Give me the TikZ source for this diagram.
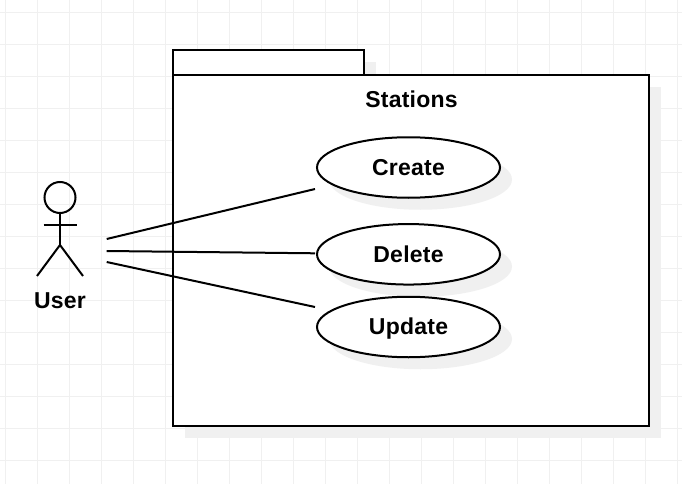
\documentclass[tikz,border=0pt]{standalone}
\usepackage{fontspec}
\setmainfont{Liberation Sans}[LetterSpace=1]
\usetikzlibrary{shapes.geometric,calc}
\definecolor{gridc}{HTML}{F0F0F0}
\definecolor{shadowc}{HTML}{F0F0F0}
\tikzset{
  gridline/.style={draw=gridc,line width=1pt},
  pkgbox/.style={draw=black,line width=2pt,fill=white,rectangle,inner sep=0pt,minimum width=476pt,minimum height=351pt,miter limit=10},
  pkgtab/.style={draw=black,line width=2pt,fill=white,rectangle,inner sep=0pt,minimum width=191pt,minimum height=25pt},
  pkgshadow/.style={fill=shadowc,draw=none},
  usecase/.style={ellipse,draw=black,line width=2pt,fill=white,inner sep=0pt,minimum width=183pt,minimum height=60.5pt,text height=16.8pt,text depth=0pt,font=\fontsize{23}{27}\selectfont\bfseries},
  caseshadow/.style={ellipse,fill=shadowc,draw=none,inner sep=0pt,minimum width=183pt,minimum height=60.5pt},
  label/.style={inner sep=0pt,font=\fontsize{23}{27}\selectfont\bfseries},
  wire/.style={draw=black,line width=2pt},
  actorbox/.style={inner sep=0pt,minimum width=46pt,minimum height=94pt,draw=none}
}
\begin{document}
\begin{tikzpicture}[x=1pt,y=-1pt]
\useasboundingbox (0,0) rectangle (682,484);
\fill[white] (0,0) rectangle (682,484);
% background grid
\foreach \i in {0,...,21} {\draw[gridline] ({5.5+32*\i},0) -- ({5.5+32*\i},484);}
\foreach \i in {0,...,14} {\draw[gridline] (0,{12.5+32*\i}) -- (682,{12.5+32*\i});}
% package shadow
\fill[pkgshadow] (185,62) rectangle (376,87);
\fill[pkgshadow] (185,87) rectangle (661,438);
% package
\node[pkgtab] (tab) at (268.5,63) {};
\node[pkgbox] (pkg) at (411,250.5) {};
\node[label] (title) at (411.5,99.5) {Stations};
% use case shadows
\node[caseshadow] at (420.5,179.5) {};
\node[caseshadow] at (420.5,266.5) {};
\node[caseshadow] at (420.5,339) {};
% use cases
\node[usecase] (create) at (408.5,167.5) {Create};
\node[usecase] (delete) at (408.5,254.3) {Delete};
\node[usecase,text height=18.1pt,text depth=4pt] (update) at (408.5,327) {Update};
% actor
\node[actorbox] (actor) at (60,229) {};
\draw[wire] (60,197.5) circle (15.5);
\draw[wire] (60,213) -- (60,245);
\draw[wire] (43.5,224.5) -- (76.5,224.5);
\draw[wire] (37,276) -- (60,245) -- (83,276);
\node[label] (user) at (60,300.5) {User};
% connectors
\draw[wire] ($(actor.east)+(23.5,10)$) -- ($(create.west)+(-1,21.5)$);
\draw[wire] ($(actor.east)+(23.5,22)$) -- ($(delete.west)+(-1,-1)$);
\draw[wire] ($(actor.east)+(23.5,33)$) -- ($(update.west)+(-1,-20)$);
\end{tikzpicture}
\end{document}
